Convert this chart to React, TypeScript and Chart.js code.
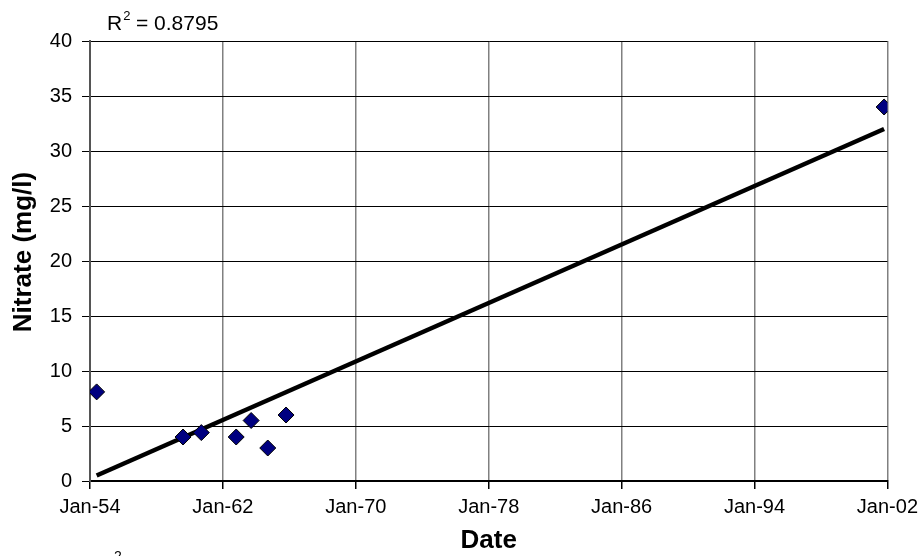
import React, { useEffect, useRef } from "react";
import { Chart, registerables } from "chart.js";

Chart.register(...registerables);

const obsYears = [1954.4, 1959.6, 1960.7, 1962.8, 1963.7, 1964.7, 1965.8, 2001.8];
const obsNitrate = [8.1, 4.0, 4.4, 4.0, 5.5, 3.0, 6.0, 34.0];
const trendYears = [1954.4, 2001.8];
const trendNitrate = [0.5, 32.0];
const xTickYears = [1954, 1962, 1970, 1978, 1986, 1994, 2002];
const yTicks = [0, 5, 10, 15, 20, 25, 30, 35, 40];
const rSquaredLabel = "0.8795";

const FONT = "'Liberation Sans', Arial, sans-serif";

const textPlugin = {
  id: "extraText",
  afterDraw(chart: any) {
    const ctx = chart.ctx;
    const area = chart.chartArea;
    ctx.save();
    ctx.fillStyle = "#000";
    // R^2 label
    ctx.font = `21px ${FONT}`;
    ctx.textBaseline = "alphabetic";
    ctx.textAlign = "left";
    ctx.fillText("R", 107, 30);
    const rw = ctx.measureText("R").width;
    ctx.font = `13px ${FONT}`;
    ctx.fillText("2", 107 + rw + 1, 20);
    ctx.font = `21px ${FONT}`;
    ctx.fillText(" = " + rSquaredLabel, 107 + rw + 8, 30);
    // y-axis title
    ctx.save();
    ctx.translate(24, 252);
    ctx.rotate(-Math.PI / 2);
    ctx.font = `bold 26px ${FONT}`;
    ctx.textAlign = "center";
    ctx.textBaseline = "middle";
    ctx.fillText("Nitrate (mg/l)", 0, 0);
    ctx.restore();
    // x-axis title
    ctx.font = `bold 26px ${FONT}`;
    ctx.textAlign = "center";
    ctx.textBaseline = "middle";
    ctx.fillText("Date", (area.left + area.right) / 2, 541);
    // stray superscript
    ctx.font = `14px ${FONT}`;
    ctx.textAlign = "left";
    ctx.textBaseline = "alphabetic";
    ctx.fillText("2", 114, 561);
    ctx.restore();
  },
};

export default function App() {
  const ref = useRef<HTMLCanvasElement>(null);
  useEffect(() => {
    document.body.style.margin = "0";
    const chart = new Chart(ref.current!, {
      type: "scatter",
      data: {
        datasets: [
          {
            type: "line",
            data: trendYears.map((x, i) => ({ x, y: trendNitrate[i] })),
            borderColor: "#000",
            borderWidth: 4.5,
            pointRadius: 0,
            fill: false,
            order: 2,
          },
          {
            data: obsYears.map((x, i) => ({ x, y: obsNitrate[i] })),
            backgroundColor: "#000080",
            borderColor: "#000",
            borderWidth: 1,
            pointStyle: "rectRot",
            pointRadius: 8,
            order: 1,
          },
        ],
      },
      options: {
        responsive: false,
        animation: false,
        layout: { padding: { top: 41, right: 36, left: 0, bottom: 0 } },
        plugins: { legend: { display: false }, tooltip: { enabled: false } },
        scales: {
          x: {
            type: "linear",
            min: 1954,
            max: 2002,
            afterBuildTicks: (s: any) => {
              s.ticks = xTickYears.map((v) => ({ value: v }));
            },
            afterFit: (s: any) => {
              s.height = 75;
            },
            ticks: {
              color: "#000",
              font: { family: FONT, size: 20 },
              padding: 6,
              maxRotation: 0,
              callback: (v: any) => "Jan-" + String(Math.round(v) % 100).padStart(2, "0"),
            },
            grid: { color: "#808080", lineWidth: 1.5, tickLength: 8, tickColor: "#000" },
            border: { color: "#000", width: 2 },
          },
          y: {
            min: 0,
            max: 40,
            afterBuildTicks: (s: any) => {
              s.ticks = yTicks.map((v) => ({ value: v }));
            },
            afterFit: (s: any) => {
              s.width = 90;
            },
            ticks: {
              color: "#000",
              font: { family: FONT, size: 20 },
              padding: 10,
            },
            grid: { color: "#000", lineWidth: 1, tickLength: 8, tickColor: "#000" },
            border: { color: "#555", width: 2 },
          },
        },
      },
      plugins: [textPlugin],
    } as any);
    return () => chart.destroy();
  }, []);
  return <canvas ref={ref} width={924} height={556} style={{ display: "block" }} />;
}
